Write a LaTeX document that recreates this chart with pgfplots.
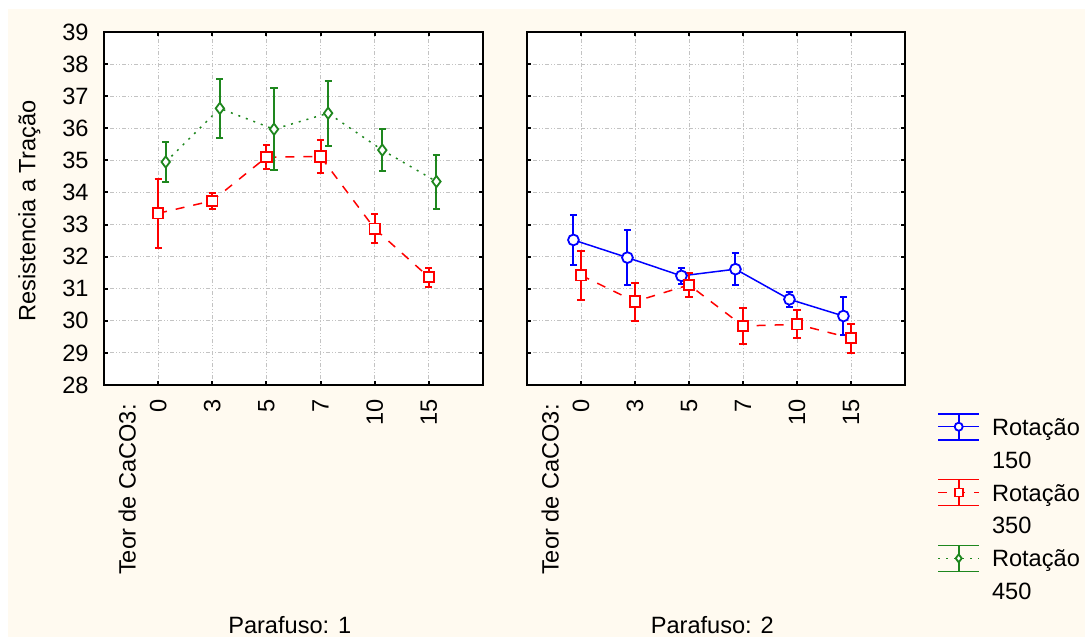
\documentclass[border=0pt]{standalone}
\usepackage{pgfplots}
\pgfplotsset{compat=1.18}
\usepackage{fontspec}
\setmainfont{Liberation Sans}

\definecolor{cream}{RGB}{255,250,240}
\definecolor{sgreen}{RGB}{30,135,30}
\definecolor{gridgray}{RGB}{195,195,195}
\newcommand{\lf}{\fontsize{11.8}{14}\selectfont}

\pgfplotsset{
  errlegend/.style={legend image code/.code={
      \draw[##1,mark=none] (0pt,0pt) -- (20.5pt,0pt);
      \draw[##1,solid,mark=none,line width=0.8pt] (0pt,6.5pt) -- (20.5pt,6.5pt)
           (10.25pt,6.5pt) -- (10.25pt,-6.5pt) (0pt,-6.5pt) -- (20.5pt,-6.5pt);
      \draw[##1,only marks,mark size=2pt] plot coordinates {(10.25pt,0pt)};
  }},
  panel/.style={
    scale only axis, height=176.5pt,
    xmin=-1, xmax=6, ymin=28, ymax=39,
    xtick={0,...,5}, xticklabels={0,3,5,7,10,15},
    ytick={28,...,39},
    tick align=inside, tick pos=both, major tick length=2.2pt,
    tick style={black, line width=1pt},
    axis line style={black, line width=1pt},
    axis background/.style={fill=white},
    grid=major,
    grid style={gridgray, line width=0.5pt, dash pattern=on 0.6pt off 0.9pt on 0.6pt off 0.9pt on 2pt off 1pt},
    font=\lf,
    /pgf/number format/assume math mode=true,
    xticklabel style={yshift=-7pt, rotate=90, anchor=east, inner sep=0pt},
    yticklabel style={anchor=east, inner sep=0pt, xshift=-7.5pt},
    clip=false,
    error bars/y dir=both, error bars/y explicit,
    error bars/error bar style={solid, line width=1pt},
    error bars/error mark options={rotate=90, mark size=1.8pt, line width=1pt, solid},
  },
  s150/.style={blue, line width=0.75pt, mark=*, mark size=2.7pt,
    mark options={solid, fill=white, line width=0.9pt}, errlegend},
  s350/.style={red, line width=0.75pt, dash pattern=on 4.5pt off 4.5pt, mark=square*, mark size=2.6pt,
    mark options={solid, fill=white, line width=0.9pt}, errlegend},
  s450/.style={sgreen, line width=0.75pt, dash pattern=on 1pt off 3pt, mark=diamond*, mark size=2.8pt,
    mark options={solid, fill=white, line width=0.9pt}, errlegend},
}

\begin{document}
\begin{tikzpicture}
\path[use as bounding box] (0pt,0pt) rectangle (542.5pt,-318.5pt);
\fill[white] (0pt,0pt) rectangle (542.5pt,-318.5pt);
\fill[cream] (4pt,-4.5pt) rectangle (542.5pt,-318.5pt);

% Parafuso 1
\begin{axis}[panel, width=189.5pt, at={(52pt,-192.5pt)}, anchor=south west]
  \addplot[s350] coordinates {
    (0,33.35) +- (0,1.08)
    (1,33.74) +- (0,0.25)
    (2,35.10) +- (0,0.38)
    (3,35.12) +- (0,0.50)
    (4,32.87) +- (0,0.46)
    (5,31.36) +- (0,0.30)
  };
  \addplot[s450] coordinates {
    (0.14,34.95) +- (0,0.62)
    (1.14,36.62) +- (0,0.91)
    (2.14,35.97) +- (0,1.28)
    (3.14,36.47) +- (0,1.01)
    (4.14,35.32) +- (0,0.65)
    (5.14,34.34) +- (0,0.84)
  };
  \node[rotate=90, anchor=east, inner sep=0pt, font=\lf] at (axis cs:-0.57,27.41) {Teor de CaCO3:};
  \node[font=\lf] at (axis cs:2.43,20.53) {Parafuso: 1};
  \node[rotate=90, font=\lf] at (axis cs:-2.38,33.42) {Resistencia a Tração};
\end{axis}

% Parafuso 2
\begin{axis}[panel, width=189pt, at={(263.5pt,-192.5pt)}, anchor=south west,
  yticklabels={},
  legend cell align=left,
  legend style={at={(1.0847,-0.0779)}, anchor=north west, draw=none, fill=none,
    inner sep=0pt, row sep=2.8pt, font=\lf,
    nodes={inner sep=0pt, inner xsep=6pt, text height=11pt, text depth=2.5pt}},
  ]
  \addplot[s150] coordinates {
    (-0.14,32.52) +- (0,0.77)
    (0.86,31.97) +- (0,0.85)
    (1.86,31.40) +- (0,0.25)
    (2.86,31.61) +- (0,0.50)
    (3.86,30.67) +- (0,0.23)
    (4.86,30.15) +- (0,0.58)
  };
  \addlegendentry{Rotação}
  \addlegendimage{empty legend}
  \addlegendentry{150}
  \addplot[s350] coordinates {
    (0,31.42) +- (0,0.77)
    (1,30.60) +- (0,0.59)
    (2,31.12) +- (0,0.38)
    (3,29.84) +- (0,0.56)
    (4,29.89) +- (0,0.44)
    (5,29.46) +- (0,0.45)
  };
  \addlegendentry{Rotação}
  \addlegendimage{empty legend}
  \addlegendentry{350}
  \addlegendimage{s450}
  \addlegendentry{Rotação}
  \addlegendimage{empty legend}
  \addlegendentry{450}
  \node[rotate=90, anchor=east, inner sep=0pt, font=\lf] at (axis cs:-0.57,27.41) {Teor de CaCO3:};
  \node[font=\lf] at (axis cs:2.43,20.53) {Parafuso: 2};
\end{axis}
\end{tikzpicture}
\end{document}
